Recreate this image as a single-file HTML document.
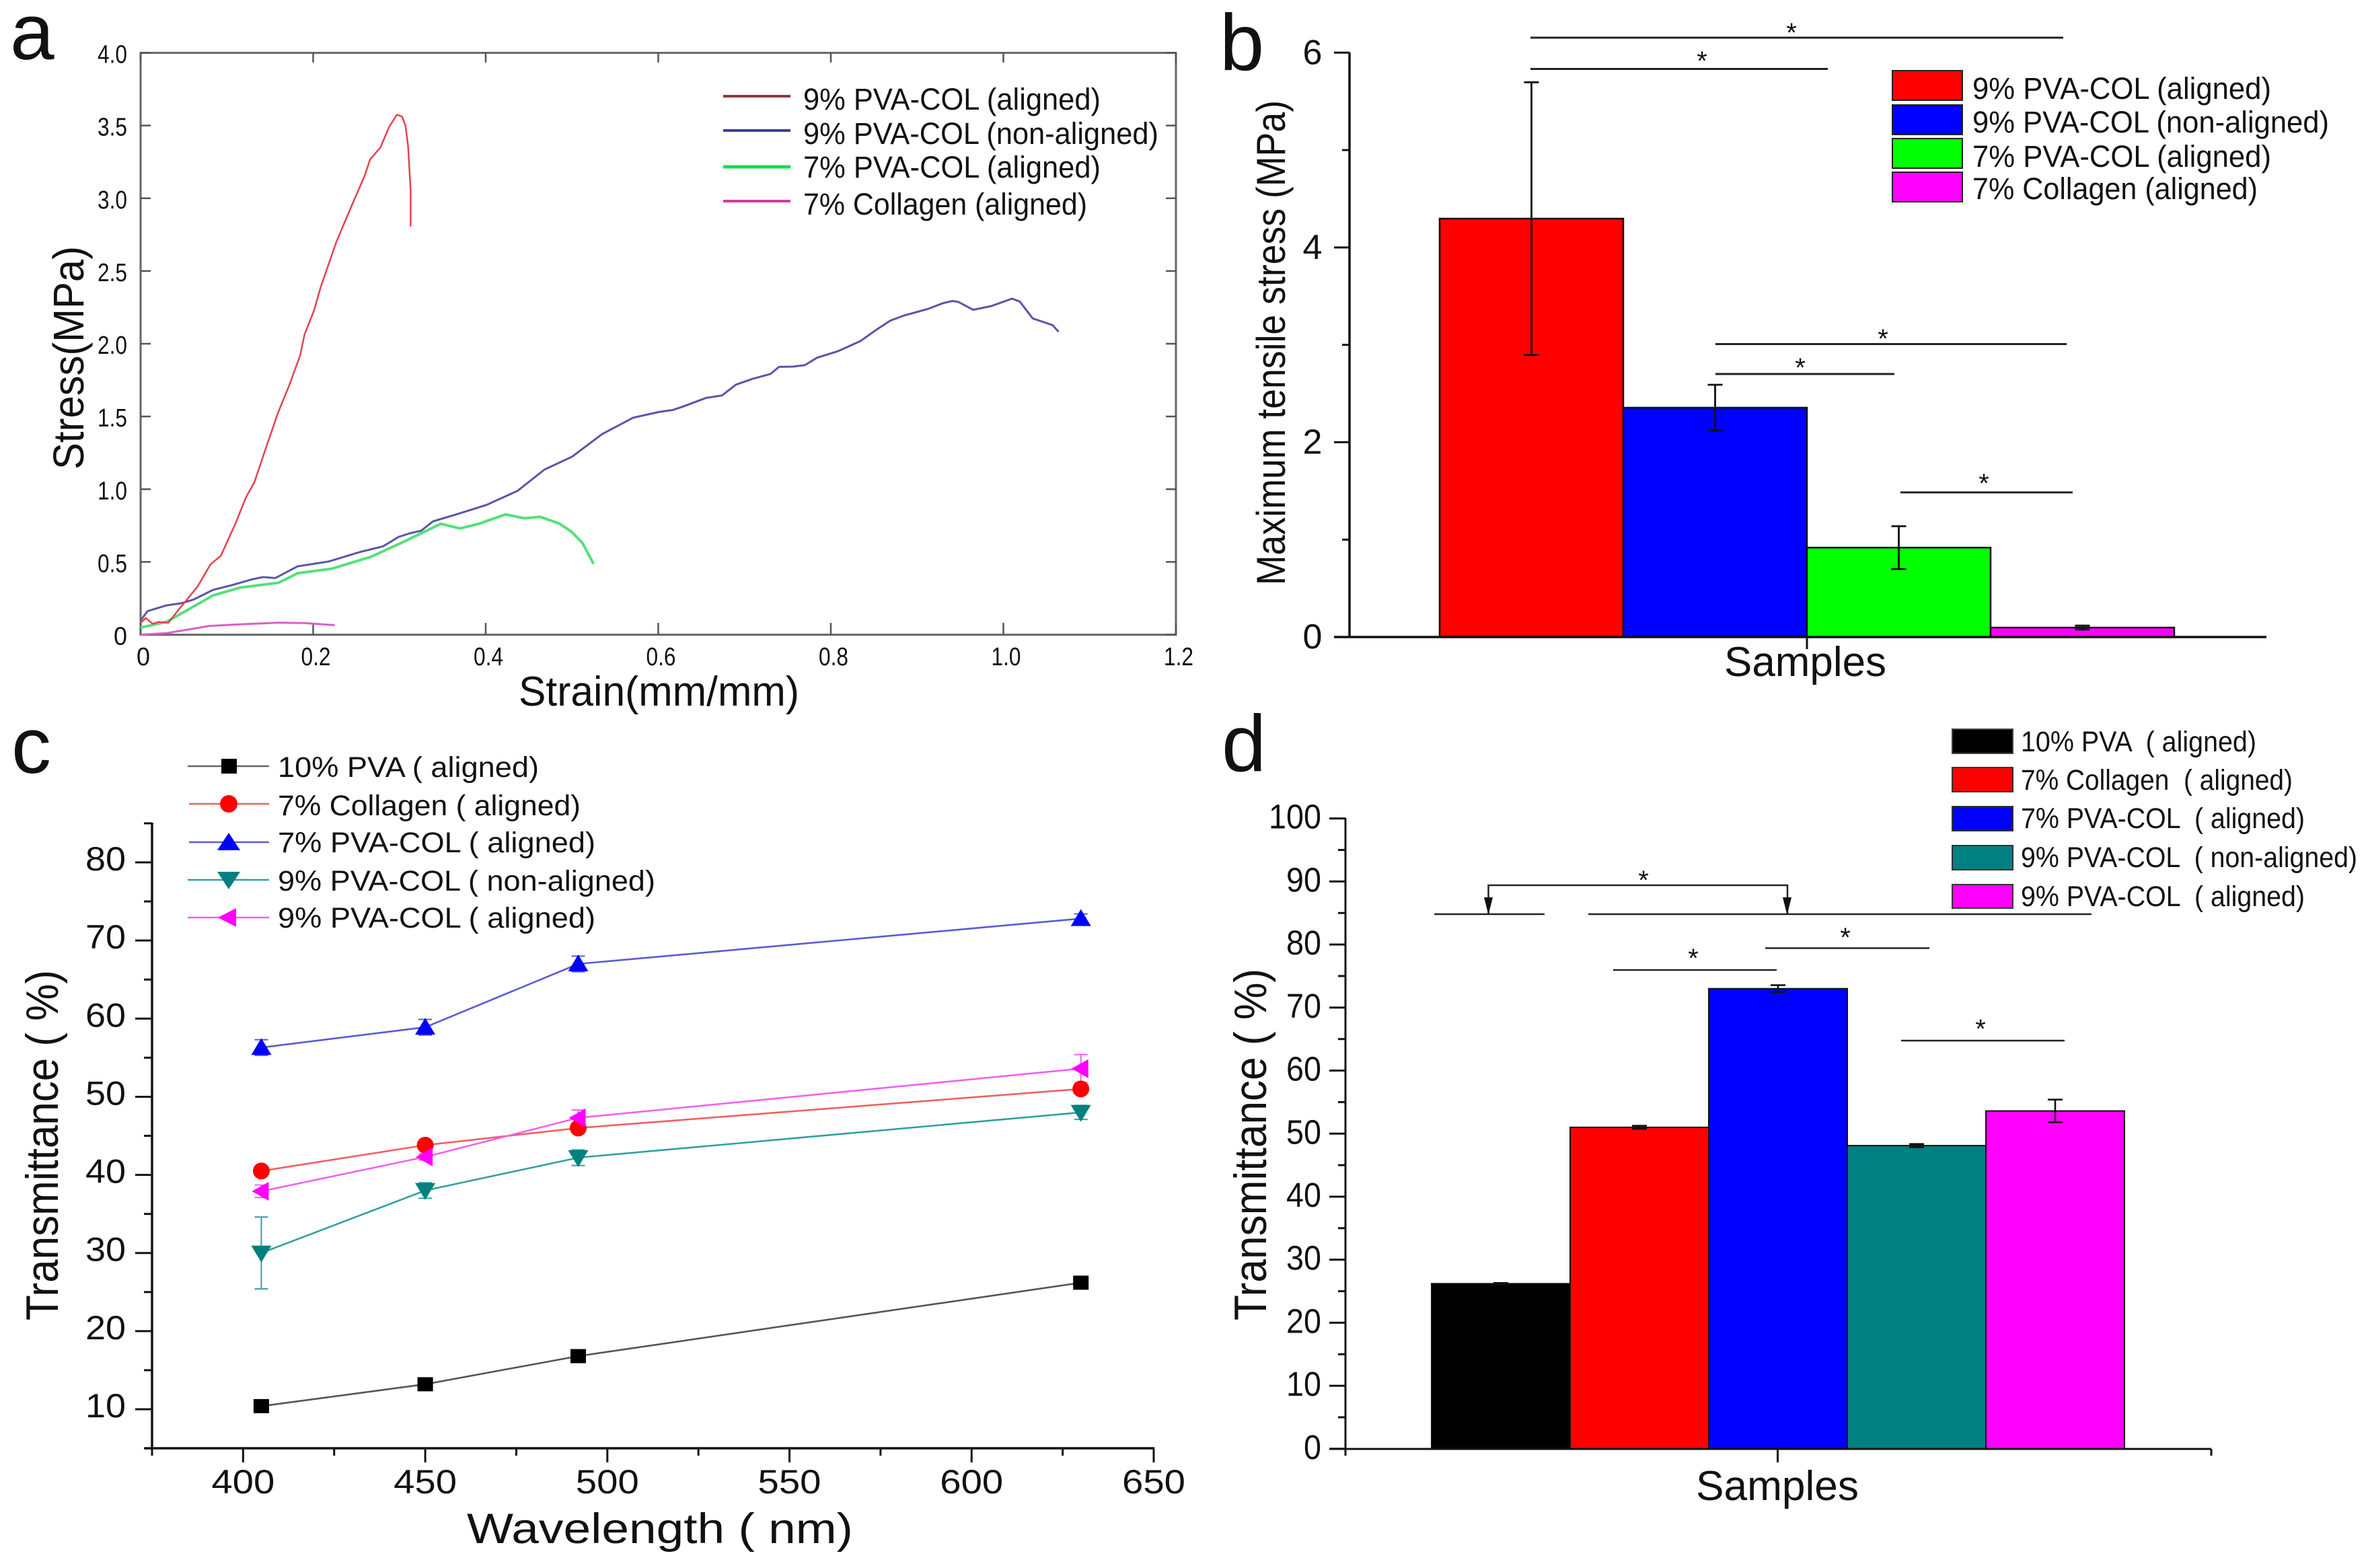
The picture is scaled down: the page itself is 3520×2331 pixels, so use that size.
<!DOCTYPE html>
<html lang="en">
<head>
<meta charset="utf-8">
<title>Mechanical and optical properties of PVA-COL nanofibers</title>
<style>
html,body{margin:0;padding:0;background:#fff;}
svg{display:block;}
text{font-family:"Liberation Sans",Arial,sans-serif;fill:#111;}
</style>
</head>
<body>
<svg id="figure" xmlns="http://www.w3.org/2000/svg" width="3520" height="2331" viewBox="0 0 3520 2331">
  <rect width="3520" height="2331" fill="#fff"/>

  <text x="15" y="88" font-size="118">a</text>
  <text x="1813" y="104" font-size="119">b</text>
  <text x="17" y="1149" font-size="118">c</text>
  <text x="1816" y="1146" font-size="119">d</text>

  <g id="panel-a"></g>
  <g id="panel-b"></g>
  <g id="panel-c"></g>
  <g id="panel-d"></g>

  <!-- Panel a titles and legend -->
  <text x="771" y="1049" font-size="62" textLength="417" lengthAdjust="spacingAndGlyphs">Strain(mm/mm)</text>
  <text x="124" y="698" font-size="64" textLength="332" lengthAdjust="spacingAndGlyphs" transform="rotate(-90 124 698)">Stress(MPa)</text>
  <g>
    <line x1="1075" x2="1175" y1="143" y2="143" stroke="#8b3a3a" stroke-width="4"/>
    <line x1="1075" x2="1175" y1="194" y2="194" stroke="#3f3f9e" stroke-width="4"/>
    <line x1="1075" x2="1175" y1="248" y2="248" stroke="#10e050" stroke-width="5"/>
    <line x1="1075" x2="1175" y1="299" y2="299" stroke="#d0409a" stroke-width="4"/>
    <text x="1194" y="163" font-size="45" textLength="442" lengthAdjust="spacingAndGlyphs">9% PVA-COL (aligned)</text>
    <text x="1194" y="214" font-size="45" textLength="528" lengthAdjust="spacingAndGlyphs">9% PVA-COL (non-aligned)</text>
    <text x="1194" y="264" font-size="45" textLength="442" lengthAdjust="spacingAndGlyphs">7% PVA-COL (aligned)</text>
    <text x="1194" y="319" font-size="45" textLength="422" lengthAdjust="spacingAndGlyphs">7% Collagen (aligned)</text>
  </g>

  <!-- Panel b titles and legend -->
  <text x="2563" y="1005" font-size="62" textLength="241" lengthAdjust="spacingAndGlyphs">Samples</text>
  <text x="1910" y="870" font-size="60" textLength="721" lengthAdjust="spacingAndGlyphs" transform="rotate(-90 1910 870)">Maximum tensile stress (MPa)</text>
  <g>
    <rect x="2813" y="105" width="104" height="44" fill="#f00" stroke="#222" stroke-width="2"/>
    <rect x="2813" y="156" width="104" height="44" fill="#00f" stroke="#222" stroke-width="2"/>
    <rect x="2813" y="206" width="104" height="44" fill="#0f0" stroke="#222" stroke-width="2"/>
    <rect x="2813" y="256" width="104" height="44" fill="#f0f" stroke="#222" stroke-width="2"/>
    <text x="2932" y="147" font-size="45" textLength="444" lengthAdjust="spacingAndGlyphs">9% PVA-COL (aligned)</text>
    <text x="2932" y="197" font-size="45" textLength="530" lengthAdjust="spacingAndGlyphs">9% PVA-COL (non-aligned)</text>
    <text x="2932" y="248" font-size="45" textLength="444" lengthAdjust="spacingAndGlyphs">7% PVA-COL (aligned)</text>
    <text x="2932" y="296" font-size="45" textLength="424" lengthAdjust="spacingAndGlyphs">7% Collagen (aligned)</text>
  </g>
  <g stroke="#222" stroke-width="3">
    <line x1="2275" x2="3067" y1="56" y2="56"/>
    <line x1="2275" x2="2717" y1="102.5" y2="102.5"/>
    <line x1="2550" x2="3072" y1="511.5" y2="511.5"/>
    <line x1="2550" x2="2816" y1="556" y2="556"/>
    <line x1="2825" x2="3081" y1="732" y2="732"/>
  </g>
  <g>
    <text x="2663" y="62" text-anchor="middle" font-size="40">*</text>
    <text x="2530" y="104" text-anchor="middle" font-size="40">*</text>
    <text x="2799" y="517" text-anchor="middle" font-size="40">*</text>
    <text x="2676" y="560" text-anchor="middle" font-size="40">*</text>
    <text x="2949" y="732" text-anchor="middle" font-size="40">*</text>
  </g>

  <!-- Panel c titles and legend -->
  <text x="694" y="2294" font-size="63" textLength="574" lengthAdjust="spacingAndGlyphs">Wavelength ( nm)</text>
  <text x="86" y="1963" font-size="68" textLength="521" lengthAdjust="spacingAndGlyphs" transform="rotate(-90 86 1963)">Transmittance ( %)</text>
  <g>
    <line x1="279" x2="400" y1="1139" y2="1139" stroke="#666" stroke-width="2.5"/>
    <rect x="329" y="1128" width="23" height="22" fill="#000"/>
    <line x1="281" x2="400" y1="1195" y2="1195" stroke="#f06060" stroke-width="2.5"/>
    <circle cx="340" cy="1195" r="13" fill="#f00"/>
    <line x1="281" x2="400" y1="1252" y2="1252" stroke="#5a5ad8" stroke-width="2.5"/>
    <polygon points="340,1238 357,1264 323,1264" fill="#00f"/>
    <line x1="279" x2="400" y1="1308" y2="1308" stroke="#30a0a0" stroke-width="2.5"/>
    <polygon points="323,1296 357,1296 340,1322" fill="#008080"/>
    <line x1="279" x2="400" y1="1364" y2="1364" stroke="#f060f0" stroke-width="2.5"/>
    <polygon points="324,1364 351,1350 351,1378" fill="#f0f"/>
    <text x="413" y="1155" font-size="43" textLength="388" lengthAdjust="spacingAndGlyphs">10% PVA ( aligned)</text>
    <text x="413" y="1212" font-size="43" textLength="450" lengthAdjust="spacingAndGlyphs">7% Collagen ( aligned)</text>
    <text x="413" y="1267" font-size="43" textLength="472" lengthAdjust="spacingAndGlyphs">7% PVA-COL ( aligned)</text>
    <text x="413" y="1324" font-size="43" textLength="561" lengthAdjust="spacingAndGlyphs">9% PVA-COL ( non-aligned)</text>
    <text x="413" y="1379" font-size="43" textLength="472" lengthAdjust="spacingAndGlyphs">9% PVA-COL ( aligned)</text>
  </g>

  <!-- Panel d titles and legend -->
  <text x="2521" y="2230" font-size="62" textLength="242" lengthAdjust="spacingAndGlyphs">Samples</text>
  <text x="1882" y="1963" font-size="68" textLength="523" lengthAdjust="spacingAndGlyphs" transform="rotate(-90 1882 1963)">Transmittance ( %)</text>
  <g>
    <rect x="2902" y="1084" width="90" height="36" fill="#000" stroke="#444" stroke-width="2"/>
    <rect x="2902" y="1141" width="90" height="36" fill="#f00" stroke="#333" stroke-width="2"/>
    <rect x="2902" y="1199" width="90" height="36" fill="#00f" stroke="#333" stroke-width="2"/>
    <rect x="2902" y="1257" width="90" height="36" fill="#008080" stroke="#333" stroke-width="2"/>
    <rect x="2902" y="1315" width="90" height="35" fill="#f0f" stroke="#333" stroke-width="2"/>
    <text x="3004" y="1117" font-size="43" textLength="350" lengthAdjust="spacingAndGlyphs" xml:space="preserve">10% PVA  ( aligned)</text>
    <text x="3004" y="1174" font-size="43" textLength="404" lengthAdjust="spacingAndGlyphs" xml:space="preserve">7% Collagen  ( aligned)</text>
    <text x="3004" y="1231" font-size="43" textLength="422" lengthAdjust="spacingAndGlyphs" xml:space="preserve">7% PVA-COL  ( aligned)</text>
    <text x="3004" y="1289" font-size="43" textLength="500" lengthAdjust="spacingAndGlyphs" xml:space="preserve">9% PVA-COL  ( non-aligned)</text>
    <text x="3004" y="1347" font-size="43" textLength="422" lengthAdjust="spacingAndGlyphs" xml:space="preserve">9% PVA-COL  ( aligned)</text>
  </g>
  <g stroke="#222" stroke-width="2.5" fill="none">
    <line x1="2132" x2="2296" y1="1359" y2="1359"/>
    <line x1="2361" x2="3109" y1="1359" y2="1359"/>
    <path d="M2212.5 1359V1316H2657V1359"/>
    <polygon points="2206,1334 2219,1334 2212.5,1360" fill="#111" stroke="none"/>
    <polygon points="2650,1334 2663,1334 2656.5,1360" fill="#111" stroke="none"/>
    <line x1="2624" x2="2868" y1="1409.5" y2="1409.5"/>
    <line x1="2398" x2="2641" y1="1442" y2="1442"/>
    <line x1="2826" x2="3069" y1="1547" y2="1547"/>
  </g>
  <text x="2443" y="1322" text-anchor="middle" font-size="40">*</text>
  <text x="2743" y="1407" text-anchor="middle" font-size="40">*</text>
  <text x="2517" y="1438" text-anchor="middle" font-size="40">*</text>
  <text x="2944" y="1543" text-anchor="middle" font-size="40">*</text>
</svg>

<script>
// ---------- Panel a: stress-strain curves ----------
const aXTicks = [0, 0.2, 0.4, 0.6, 0.8, 1.0, 1.2];
const aXTickLabels = ['0', '0.2', '0.4', '0.6', '0.8', '1.0', '1.2'];
const aYTicks = [0, 0.5, 1.0, 1.5, 2.0, 2.5, 3.0, 3.5, 4.0];
const aYTickLabels = ['0', '0.5', '1.0', '1.5', '2.0', '2.5', '3.0', '3.5', '4.0'];
const strainRed = [0, .006, .014, .021, .032, .045, .066, .081, .093, .110, .122, .132, .144, .159, .172, .185, .190, .201, .209, .227, .242, .260, .266, .278, .288, .297, .303, .307, .310, .313, .313];
const stressRed = [.081, .114, .075, .088, .082, .178, .33, .483, .543, .765, .943, 1.05, 1.262, 1.521, 1.71, 1.922, 2.064, 2.229, 2.394, 2.701, 2.913, 3.16, 3.267, 3.35, 3.49, 3.574, 3.562, 3.50, 3.36, 3.054, 2.807];
const strainBlue = [0, .008, .030, .048, .062, .084, .106, .129, .142, .156, .182, .218, .254, .281, .299, .312, .325, .339, .366, .401, .437, .468, .500, .535, .571, .600, .617, .631, .655, .674, .690, .709, .730, .740, .756, .770, .784, .808, .834, .853, .869, .885, .913, .930, .941, .948, .965, .986, 1.010, 1.019, 1.034, 1.057, 1.064];
const stressBlue = [.097, .162, .201, .217, .243, .308, .341, .380, .396, .389, .470, .503, .568, .607, .672, .697, .714, .779, .827, .892, .989, 1.135, 1.223, 1.379, 1.492, 1.53, 1.545, 1.573, 1.627, 1.645, 1.719, 1.758, 1.792, 1.841, 1.843, 1.853, 1.904, 1.948, 2.017, 2.097, 2.159, 2.194, 2.24, 2.279, 2.294, 2.287, 2.233, 2.259, 2.31, 2.29, 2.174, 2.128, 2.082];
const strainGreen = [0, .030, .062, .084, .116, .160, .182, .222, .267, .303, .348, .370, .392, .423, .445, .463, .485, .499, .512, .525];
const stressGreen = [.049, .088, .195, .27, .324, .357, .422, .454, .535, .633, .762, .73, .762, .827, .80, .81, .765, .71, .632, .487];
const strainMagenta = [0, .03, .05, .08, .12, .16, .19, .225];
const stressMagenta = [0, .01, .03, .06, .072, .083, .08, .065];

// ---------- Panel b: maximum tensile stress ----------
const bYTicks = [0, 2, 4, 6];
const bYTickLabels = ['0', '2', '4', '6'];
const bYMinorTicks = [1, 3, 5];
const bValues = [4.296, 2.355, 0.918, 0.097];
const bErrors = [1.40, 0.235, 0.22, 0.02];
const bColors = ['#ff0000', '#0000ff', '#00ff00', '#ff00ff'];

// ---------- Panel c: transmittance vs wavelength ----------
const cXTicks = [400, 450, 500, 550, 600, 650];
const cXTickLabels = ['400', '450', '500', '550', '600', '650'];
const cXMinorTicks = [375, 425, 475, 525, 575, 625];
const cYTicks = [10, 20, 30, 40, 50, 60, 70, 80];
const cYTickLabels = ['10', '20', '30', '40', '50', '60', '70', '80'];
const cYMinorTicks = [5, 15, 25, 35, 45, 55, 65, 75, 85];
const wavelengths = [405, 450, 492, 630];
const cPva = [10.4, 13.2, 16.8, 26.2];
const cCollagen = [40.5, 43.8, 46, 51];
const cPvaCol7 = [56.3, 58.9, 67, 72.8];
const cPvaCol9Non = [30, 38, 42.2, 48];
const cPvaCol9 = [37.9, 42.3, 47.3, 53.6];
const cPvaErr = [0.1, 0.1, 0.1, 0.1];
const cCollagenErr = [0.3, 0.3, 0.3, 0.3];
const cPvaCol7Err = [1, 1, 1, 0.6];
const cPvaCol9NonErr = [4.6, 1, 1, 0.9];
const cPvaCol9Err = [0.8, 0.4, 1, 1.8];

// ---------- Panel d: transmittance bars ----------
const dYTicks = [0, 10, 20, 30, 40, 50, 60, 70, 80, 90, 100];
const dYTickLabels = ['0', '10', '20', '30', '40', '50', '60', '70', '80', '90', '100'];
const dYMinorTicks = [5, 15, 25, 35, 45, 55, 65, 75, 85, 95];
const dValues = [26.2, 51, 73, 48.1, 53.6];
const dErrors = [0.1, 0.25, 0.55, 0.25, 1.8];
const dColors = ['#000000', '#ff0000', '#0000ff', '#008080', '#ff00ff'];

// ---------- Drawing ----------
const NS = 'http://www.w3.org/2000/svg';
function make(parent, tag, attrs, content) {
  const el = document.createElementNS(NS, tag);
  for (const k in attrs) el.setAttribute(k, attrs[k]);
  if (content !== undefined) el.textContent = content;
  parent.appendChild(el);
  return el;
}
function lineTo(parent, x1, y1, x2, y2, stroke, width) {
  return make(parent, 'line', { x1, y1, x2, y2, stroke, 'stroke-width': width });
}
function pathFrom(xs, ys, sx, sy) {
  return xs.map((x, i) => (i ? 'L' : 'M') + sx(x).toFixed(1) + ' ' + sy(ys[i]).toFixed(1)).join('');
}
function aLabelWidth(s) {
  return s.length === 1 ? 20 : 44;
}

/* Panel a */
(function () {
  const g = document.getElementById('panel-a');
  const sx = v => 209 + v / 1.2 * 1539;
  const sy = v => 943.5 - v / 4 * 865;
  const frame = make(g, 'rect', { x: 209, y: 78.6, width: 1539, height: 865, fill: 'none', stroke: '#666', 'stroke-width': 3 });
  
  
  aXTicks.forEach((t, i) => {
    const b = lineTo(g, sx(t), 943.5, sx(t), 926, '#555', 2.5);
    
    
    const u = lineTo(g, sx(t), 78.6, sx(t), 93, '#555', 2.5);
    
    
    const label = make(g, 'text', { x: sx(t) + 4, y: 989, 'font-size': 38, 'text-anchor': 'middle', textLength: aLabelWidth(aXTickLabels[i]), lengthAdjust: 'spacingAndGlyphs' }, aXTickLabels[i]);
    
    
  });
  aYTicks.forEach((t, i) => {
    const l = lineTo(g, 209, sy(t), 224, sy(t), '#555', 2.5);
    
    
    const r = lineTo(g, 1748, sy(t), 1733, sy(t), '#555', 2.5);
    
    
    const label = make(g, 'text', { x: 189, y: sy(t) + 15, 'font-size': 38, 'text-anchor': 'end', textLength: aLabelWidth(aYTickLabels[i]), lengthAdjust: 'spacingAndGlyphs' }, aYTickLabels[i]);
    
    
  });
  const green = make(g, 'path', { d: pathFrom(strainGreen, stressGreen, sx, sy), fill: 'none', stroke: '#55e07a', 'stroke-width': 4 });
  
  
  const magenta = make(g, 'path', { d: pathFrom(strainMagenta, stressMagenta, sx, sy), fill: 'none', stroke: '#d860c8', 'stroke-width': 3 });
  
  
  const blue = make(g, 'path', { d: pathFrom(strainBlue, stressBlue, sx, sy), fill: 'none', stroke: '#5a55a8', 'stroke-width': 3 });
  
  
  const red = make(g, 'path', { d: pathFrom(strainRed, stressRed, sx, sy), fill: 'none', stroke: '#e8404c', 'stroke-width': 2.5 });
  
  
})();

/* Panel b */
(function () {
  const g = document.getElementById('panel-b');
  const sy = v => 947 - v / 6 * 868.7;
  const barLeft = i => 2140 + i * 273;
  const barW = 273;
  bValues.forEach((v, i) => {
    const r = make(g, 'rect', { x: barLeft(i), y: sy(v), width: barW, height: 947 - sy(v), fill: bColors[i], stroke: '#111', 'stroke-width': 2.5 });
    
    
  });
  bValues.forEach((v, i) => {
    const cx = barLeft(i) + barW / 2;
    const e = make(g, 'path', { d: `M${cx - 11} ${sy(v + bErrors[i])}H${cx + 11}M${cx} ${sy(v + bErrors[i])}V${sy(v - bErrors[i])}M${cx - 11} ${sy(v - bErrors[i])}H${cx + 11}`, fill: 'none', stroke: '#111', 'stroke-width': 2.8 });
    
    
  });
  const yAxis = lineTo(g, 2006, 78, 2006, 947, '#111', 3.5);
  
  
  const xAxis = lineTo(g, 1983, 947, 3369, 947, '#111', 3.5);
  
  
  const xTick = lineTo(g, 2686, 947, 2686, 965, '#111', 3);
  
  
  bYTicks.forEach((t, i) => {
    const l = lineTo(g, 1983, sy(t), 2006, sy(t), '#111', 3);
    
    
    const label = make(g, 'text', { x: 1951, y: sy(t) + 17, 'font-size': 52, 'text-anchor': 'middle' }, bYTickLabels[i]);
    
    
  });
  bYMinorTicks.forEach(t => {
    const l = lineTo(g, 1995, sy(t), 2006, sy(t), '#111', 3);
    
    
  });
})();

/* Panel c */
(function () {
  const g = document.getElementById('panel-c');
  const sx = v => 226 + (v - 375) / 275 * 1489;
  const sy = v => 2095 - (v - 10) * 11.614;
  const yAxis = lineTo(g, 226, 1223, 226, 2153, '#111', 3.5);
  
  
  const xAxis = lineTo(g, 215, 2153, 1716, 2153, '#111', 3.5);
  
  
  cXTicks.forEach((t, i) => {
    const l = lineTo(g, sx(t), 2153, sx(t), 2174, '#111', 3);
    
    
    const label = make(g, 'text', { x: sx(t), y: 2220, 'font-size': 50, 'text-anchor': 'middle', textLength: 94, lengthAdjust: 'spacingAndGlyphs' }, cXTickLabels[i]);
    
    
  });
  cXMinorTicks.forEach(t => {
    const l = lineTo(g, sx(t), 2153, sx(t), 2164, '#111', 3);
    
    
  });
  cYTicks.forEach((t, i) => {
    const l = lineTo(g, 201, sy(t), 226, sy(t), '#111', 3);
    
    
    const label = make(g, 'text', { x: 187, y: sy(t) + 12, 'font-size': 50, 'text-anchor': 'end', textLength: 60, lengthAdjust: 'spacingAndGlyphs' }, cYTickLabels[i]);
    
    
  });
  cYMinorTicks.forEach(t => {
    const l = lineTo(g, 214, sy(t), 226, sy(t), '#111', 3);
    
    
  });
  function errBars(values, errors, color) {
    values.forEach((v, i) => {
      const x = sx(wavelengths[i]);
      const e = make(g, 'path', { d: `M${x - 10} ${sy(v + errors[i])}H${x + 10}M${x} ${sy(v + errors[i])}V${sy(v - errors[i])}M${x - 10} ${sy(v - errors[i])}H${x + 10}`, fill: 'none', stroke: color, 'stroke-width': 2 });
      
      
    });
  }
  function seriesLine(values, color, name) {
    const p = make(g, 'path', { d: pathFrom(wavelengths, values, sx, sy), fill: 'none', stroke: color, 'stroke-width': 2.6 });
    
    
  }
  seriesLine(cPva, '#555', 'c-line-10-pva');
  errBars(cPva, cPvaErr, '#555');
  seriesLine(cCollagen, '#f06060', 'c-line-7-collagen');
  errBars(cCollagen, cCollagenErr, '#f06060');
  seriesLine(cPvaCol7, '#5a5ad8', 'c-line-7-pva-col');
  errBars(cPvaCol7, cPvaCol7Err, '#5a5ad8');
  seriesLine(cPvaCol9Non, '#30a0a0', 'c-line-9-pva-col-non-aligned');
  errBars(cPvaCol9Non, cPvaCol9NonErr, '#30a0a0');
  seriesLine(cPvaCol9, '#f060f0', 'c-line-9-pva-col-aligned');
  errBars(cPvaCol9, cPvaCol9Err, '#f060f0');
  cPva.forEach((v, i) => {
    const m = make(g, 'rect', { x: sx(wavelengths[i]) - 11.5, y: sy(v) - 10.5, width: 23, height: 21, fill: '#000' });
    
    
  });
  cCollagen.forEach((v, i) => {
    const m = make(g, 'circle', { cx: sx(wavelengths[i]), cy: sy(v), r: 12.5, fill: '#f00' });
    
    
  });
  cPvaCol7.forEach((v, i) => {
    const x = sx(wavelengths[i]), y = sy(v);
    const m = make(g, 'polygon', { points: `${x},${y - 14} ${x + 15},${y + 11} ${x - 15},${y + 11}`, fill: '#00f' });
    
    
  });
  cPvaCol9Non.forEach((v, i) => {
    const x = sx(wavelengths[i]), y = sy(v);
    const m = make(g, 'polygon', { points: `${x - 15},${y - 11} ${x + 15},${y - 11} ${x},${y + 14}`, fill: '#008080' });
    
    
  });
  cPvaCol9.forEach((v, i) => {
    const x = sx(wavelengths[i]), y = sy(v);
    const m = make(g, 'polygon', { points: `${x - 14},${y} ${x + 11},${y - 14} ${x + 11},${y + 14}`, fill: '#ff00ff' });
    
    
  });
})();

/* Panel d */
(function () {
  const g = document.getElementById('panel-d');
  const sy = v => 2153.8 - v * 9.371;
  const barLeft = i => 2128 + i * 206;
  const barW = 206;
  dValues.forEach((v, i) => {
    const r = make(g, 'rect', { x: barLeft(i), y: sy(v), width: barW, height: 2153.8 - sy(v), fill: dColors[i], stroke: '#111', 'stroke-width': 2 });
    
    
  });
  dValues.forEach((v, i) => {
    const cx = barLeft(i) + barW / 2;
    const e = make(g, 'path', { d: `M${cx - 11} ${sy(v + dErrors[i])}H${cx + 11}M${cx} ${sy(v + dErrors[i])}V${sy(v - dErrors[i])}M${cx - 11} ${sy(v - dErrors[i])}H${cx + 11}`, fill: 'none', stroke: '#111', 'stroke-width': 2.6 });
    
    
  });
  const yAxis = lineTo(g, 2000, 1216, 2000, 2154, '#111', 3);
  
  
  const xAxis = lineTo(g, 1976, 2154, 3287, 2154, '#111', 3);
  
  
  const t0 = lineTo(g, 2000, 2154, 2000, 2164, '#111', 3);
  
  
  const t1 = lineTo(g, 2642.5, 2154, 2642.5, 2174, '#111', 3);
  
  
  const t2 = lineTo(g, 3287, 2154, 3287, 2164, '#111', 3);
  
  
  dYTicks.forEach((t, i) => {
    const l = lineTo(g, 1976, sy(t), 2000, sy(t), '#111', 3);
    
    
    const label = make(g, 'text', { x: 1964, y: sy(t) + 15, 'font-size': 51, 'text-anchor': 'end', textLength: dYTickLabels[i].length * 26, lengthAdjust: 'spacingAndGlyphs' }, dYTickLabels[i]);
    
    
  });
  dYMinorTicks.forEach(t => {
    const l = lineTo(g, 1989, sy(t), 2000, sy(t), '#111', 3);
    
    
  });
})();
</script>
</body>
</html>
